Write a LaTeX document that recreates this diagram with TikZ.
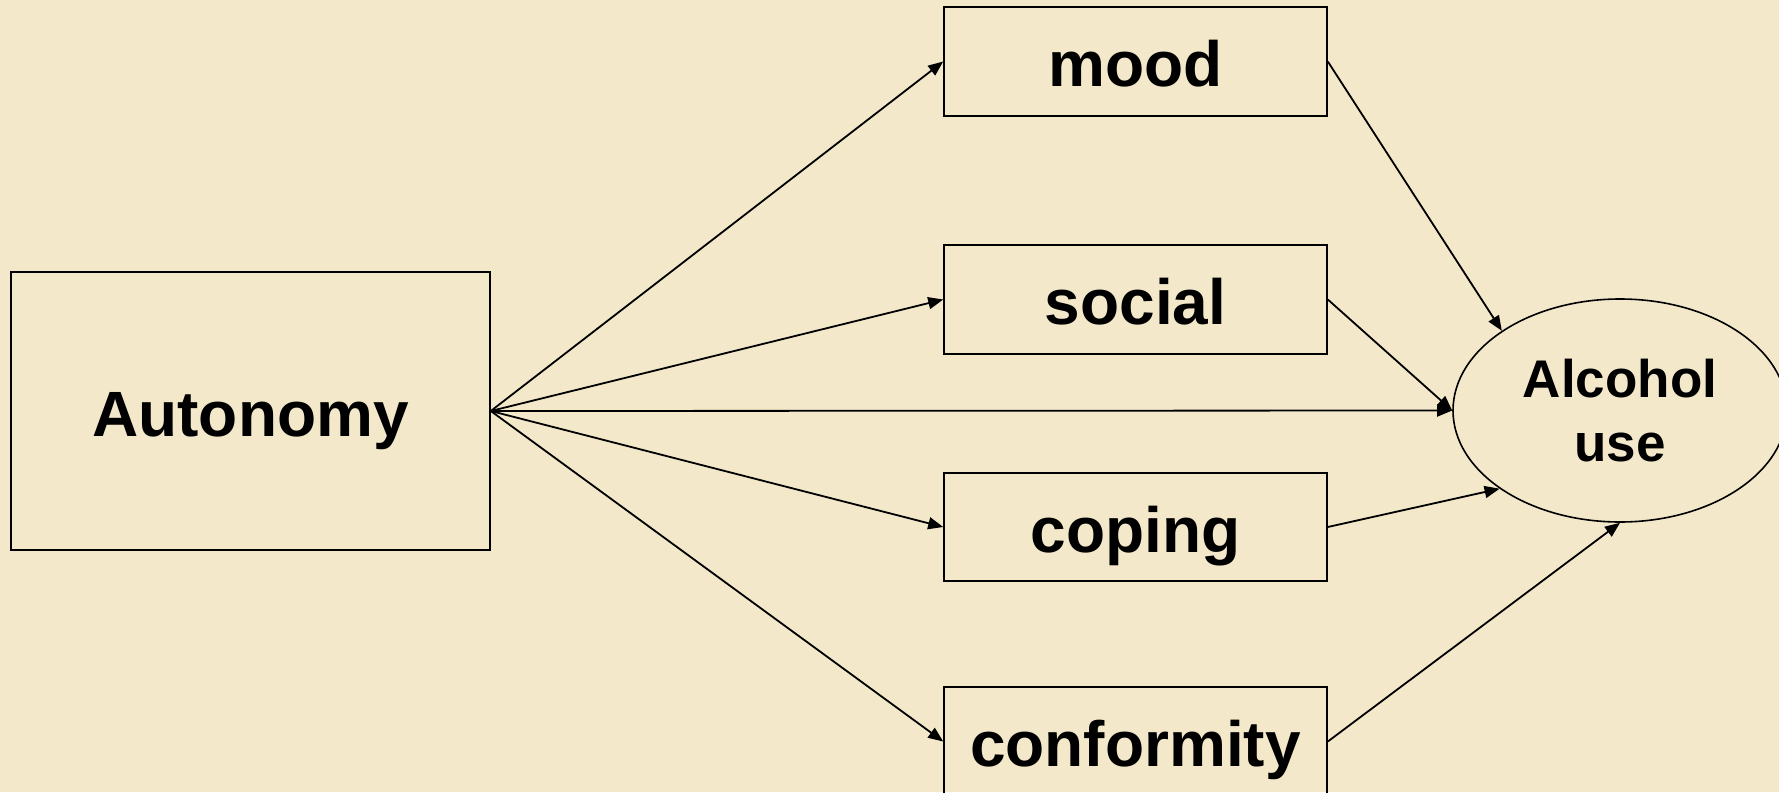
\documentclass[tikz,border=0pt]{standalone}
\usepackage{fontspec}
\setmainfont{Liberation Sans}
\usetikzlibrary{arrows.meta,shapes.geometric}
\definecolor{bg}{RGB}{243,232,202}
\tikzset{
  box/.style={draw=black,line width=1.6pt,rectangle,inner sep=0pt,text height=50pt,text depth=0pt,font=\fontsize{64}{72}\selectfont\bfseries},
  oval/.style={draw=black,line width=1.6pt,ellipse,inner sep=0pt,align=center,font=\fontsize{53}{64}\selectfont\bfseries},
  arr/.style={line width=1.8pt,-{Triangle[length=15pt,width=12pt]}}
}
\begin{document}
\begin{tikzpicture}[x=1pt,y=-1pt]
\clip (0,0) rectangle (1779,792);
\fill[bg] (0,0) rectangle (1779,792);
\node[box,minimum width=479pt,minimum height=278pt] (auto) at (250.5,411) {Autonomy};
\node[box,minimum width=383pt,minimum height=109pt] (mood) at (1135.5,61.5) {mood};
\node[box,minimum width=383pt,minimum height=109pt] (social) at (1135.5,299.5) {social};
\node[box,minimum width=383pt,minimum height=108pt] (coping) at (1135.5,527) {coping};
\node[box,minimum width=383pt,minimum height=109pt] (conf) at (1135.5,741.5) {conformity};
\node[oval,minimum width=334pt,minimum height=223pt] (alc) at (1620,410.5) {Alcohol\\use};
\draw[arr] (auto.east) -- (mood.west);
\draw[arr] (auto.east) -- (social.west);
\draw[arr] (auto.east) -- (alc.west);
\draw[arr] (auto.east) -- (coping.west);
\draw[arr] (auto.east) -- (conf.west);
\draw[arr] (mood.east) -- (alc.146);
\draw[arr] (social.east) -- (alc.west);
\draw[arr] (coping.east) -- (alc.213);
\draw[arr] (conf.east) -- (alc.south);
\end{tikzpicture}
\end{document}
